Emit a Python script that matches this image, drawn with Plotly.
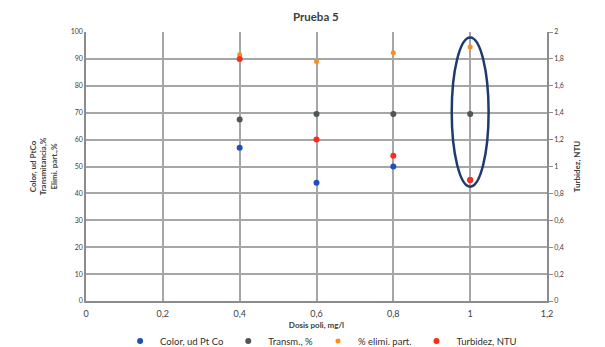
import plotly.graph_objects as go

dosis = [0.4, 0.6, 0.8, 1.0]
color_ptco = [57, 44, 50, 45]
transm = [67.5, 69.5, 69.5, 69.5]
elimi_part = [91.5, 89, 92.3, 94.4]
turbidez = [1.8, 1.2, 1.08, 0.9]

font = "Lato"
fig = go.Figure()
fig.add_trace(go.Scatter(x=dosis, y=color_ptco, mode="markers", name="Color, ud Pt Co",
                         marker=dict(color="#1f4fbf", size=6)))
fig.add_trace(go.Scatter(x=dosis, y=transm, mode="markers", name="Transm., %",
                         marker=dict(color="#4f5753", size=6)))
fig.add_trace(go.Scatter(x=dosis, y=elimi_part, mode="markers", name="% elimi. part.",
                         marker=dict(color="#ff8c1a", size=5)))
fig.add_trace(go.Scatter(x=dosis, y=turbidez, mode="markers", name="Turbidez, NTU", yaxis="y2",
                         marker=dict(color="#ff2a1a", size=6)))

fig.add_shape(type="circle", xref="x", yref="y", x0=0.952, x1=1.048, y0=42.5, y1=98,
              line=dict(color="#1f3b6b", width=2.5))

fig.update_layout(
    width=605, height=347, margin=dict(l=86, r=58, t=32, b=46, autoexpand=False),
    paper_bgcolor="white", plot_bgcolor="white",
    font=dict(family=font, size=8, color="#404040"),
    title=dict(text="<b>Prueba 5</b>", x=0.522, xanchor="center", y=0.952, yanchor="middle",
               font=dict(size=11.5, color="#404040")),
    xaxis=dict(range=[0, 1.2], dtick=0.2, showgrid=True, gridcolor="#a6a6a6",
               gridwidth=1.5, showline=True, linecolor="#8c8c8c", linewidth=1.5, zeroline=False,
               tickfont=dict(size=9, color="#404040"), automargin=False, ticklabelstandoff=3,
               title=dict(text="<b>Dosis poli, mg/l</b>", font=dict(size=8), standoff=5)),
    yaxis=dict(range=[0, 100], dtick=10, showgrid=True, gridcolor="#a6a6a6", gridwidth=1.5,
               showline=True, linecolor="#8c8c8c", linewidth=1.5, zeroline=False,
               tickfont=dict(size=7), automargin=False,
               title=dict(text="<b>Color, ud PtCo<br>Transmitancia,%<br>Elimi. part.,%</b>",
                          font=dict(size=8), standoff=12)),
    yaxis2=dict(range=[0, 2], dtick=0.2, overlaying="y", side="right", showgrid=False,
                showline=True, linecolor="#8c8c8c", linewidth=1.5, zeroline=False,
                ticks="outside", ticklen=4, tickcolor="#8c8c8c", tickfont=dict(size=7),
                automargin=False,
                title=dict(text="<b>Turbidez, NTU</b>", font=dict(size=8), standoff=12)),
    separators=", ",
    legend=dict(orientation="h", x=0.51, xanchor="center", y=-0.149, yanchor="middle",
                font=dict(size=9.5, color="#303030"), itemwidth=30, tracegroupgap=0),
    showlegend=True,
)
fig.write_html("out.html")
